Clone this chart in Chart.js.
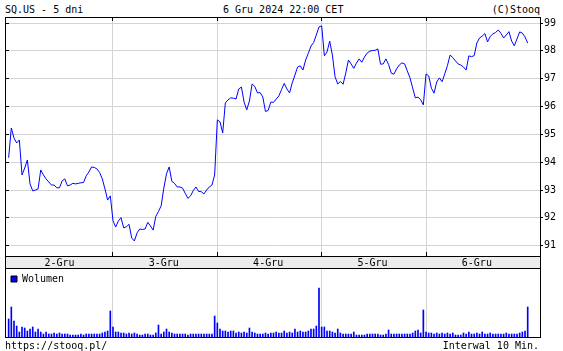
<!DOCTYPE html>
<html>
<head>
<meta charset="utf-8">
<script src="https://cdn.jsdelivr.net/npm/chart.js@4"></script>
<style>
  body { margin: 0; width: 563px; height: 351px; background: #fff; position: relative; overflow: hidden;
         font: 10px "DejaVu Sans Mono", monospace; color: #000; }
  .t { position: absolute; line-height: 10px; white-space: pre; }
  canvas { position: absolute; left: 0; }
</style>
</head>
<body>
<div class="t" style="left:5px;top:5px">SQ.US - 5 dni</div>
<div class="t" style="left:223px;top:5px">6 Gru 2024 22:00 CET</div>
<div class="t" style="right:23px;top:5px">(C)Stooq</div>
<canvas id="price" width="563" height="268" style="top:0"></canvas>
<canvas id="vol" width="563" height="83" style="top:268px"></canvas>
<div class="t" style="left:5px;top:341px">https://stooq.pl/</div>
<div class="t" style="right:24px;top:341px">Interwal 10 Min.</div>
<script>
const days = ['2-Gru', '3-Gru', '4-Gru', '5-Gru', '6-Gru'];
const barsPerDay = 39;
const priceTicks = [91, 92, 93, 94, 95, 96, 97, 98, 99];

// 10-minute closes, 39 per session
const prices = [
  94.16, 95.23, 94.87, 94.69, 94.80, 93.54, 93.79, 94.08, 93.22, 92.97, 93.00, 93.04, 93.72, 93.54, 93.40, 93.29, 93.18, 93.18, 93.08, 93.08,
  93.33, 93.40, 93.15, 93.18, 93.24, 93.22, 93.24, 93.26, 93.27, 93.51, 93.65, 93.83, 93.81, 93.76, 93.63, 93.40, 93.04, 92.64, 92.79,
  91.90, 91.67, 91.89, 92.01, 91.64, 91.68, 91.77, 91.28, 91.17, 91.46, 91.60, 91.58, 91.60, 91.84, 91.71, 91.56, 92.05, 92.23, 92.43, 93.07,
  93.58, 93.83, 93.31, 93.24, 93.11, 93.11, 93.07, 92.88, 92.70, 92.79, 92.98, 93.11, 92.95, 92.94, 92.86, 93.00, 93.11, 93.18, 93.54,
  95.52, 95.45, 95.05, 96.13, 96.24, 96.31, 96.30, 96.27, 96.63, 96.70, 96.16, 95.88, 96.20, 96.81, 96.72, 96.49, 96.50, 96.34, 95.82, 95.86,
  96.16, 96.15, 96.27, 96.38, 96.61, 96.83, 96.63, 96.49, 96.85, 97.13, 97.42, 97.46, 97.31, 97.67, 97.91, 98.17, 98.30, 98.57, 98.86,
  98.90, 97.82, 97.96, 98.35, 97.85, 97.07, 96.81, 96.90, 96.80, 97.20, 97.67, 97.53, 97.37, 97.56, 97.71, 97.59, 97.78, 97.92, 97.99, 98.01,
  98.02, 98.07, 97.52, 97.53, 97.71, 97.51, 97.20, 97.16, 97.35, 97.49, 97.57, 97.53, 97.28, 97.03, 96.67, 96.31, 96.34, 96.24, 96.06,
  97.17, 97.10, 96.66, 96.48, 96.88, 97.03, 96.89, 97.17, 97.47, 97.85, 97.76, 97.64, 97.53, 97.49, 97.42, 97.31, 97.82, 97.79, 97.83, 98.28,
  98.46, 98.53, 98.62, 98.32, 98.52, 98.61, 98.66, 98.75, 98.63, 98.46, 98.57, 98.69, 98.35, 98.18, 98.43, 98.68, 98.64, 98.50, 98.28
];

const volumes = [
  18, 30, 16, 11, 5, 10, 9, 6, 8, 10, 5, 8, 5, 3, 5, 3, 3, 4, 3, 4, 3, 3, 3, 2, 2, 2, 2, 3, 2, 3, 3, 3, 3, 3, 3, 4, 5, 6, 26,
  10, 5, 5, 4, 4, 3, 4, 3, 4, 3, 2, 2, 3, 3, 2, 2, 4, 12, 3, 5, 8, 5, 4, 3, 3, 3, 3, 3, 2, 3, 3, 3, 3, 3, 3, 3, 3, 3, 21,
  14, 8, 6, 6, 5, 6, 6, 4, 5, 4, 5, 4, 9, 5, 4, 3, 3, 3, 4, 3, 4, 4, 5, 4, 4, 6, 4, 5, 4, 8, 5, 6, 5, 5, 6, 8, 8, 11, 49,
  10, 10, 6, 6, 5, 4, 8, 4, 3, 3, 3, 3, 5, 2, 2, 2, 2, 3, 3, 3, 3, 3, 2, 2, 3, 7, 3, 3, 3, 3, 3, 3, 3, 3, 4, 6, 7, 4, 27,
  5, 4, 4, 3, 4, 3, 4, 3, 4, 3, 4, 2, 2, 2, 4, 3, 5, 3, 3, 4, 3, 5, 3, 3, 4, 3, 3, 3, 3, 3, 4, 3, 3, 3, 3, 4, 5, 6, 30
];

const gridColor = '#d4d4d4';
Chart.defaults.font.family = "'DejaVu Sans Mono', monospace";
Chart.defaults.font.size = 10;
Chart.defaults.color = '#000';

const xMin = -1.36, xMax = 198.6;
const dayStarts = days.slice(1).map((d, k) => (k + 1) * barsPerDay);
const dayMids = days.map((d, k) => k * barsPerDay + 19);
const align = p => Math.round(p - 0.5) + 0.5;

// frame, strip under the price panel and the small inner ticks
const frame = {
  id: 'frame',
  beforeDraw(chart, args, opts) {
    if (!opts.strip) return;
    const { ctx, chartArea: a } = chart;
    ctx.save();
    ctx.fillStyle = '#ececec';
    ctx.fillRect(a.left, a.bottom, a.right - a.left, chart.height - a.bottom);
    ctx.restore();
  },
  afterDraw(chart, args, opts) {
    const { ctx, chartArea: a, scales } = chart;
    ctx.save();
    ctx.strokeStyle = '#000';
    ctx.lineWidth = 1;
    ctx.strokeRect(a.left + 0.5, a.top + 0.5, a.right - a.left, a.bottom - a.top);
    if (opts.strip) {
      ctx.beginPath();
      ctx.moveTo(a.left + 0.5, a.bottom); ctx.lineTo(a.left + 0.5, chart.height);
      ctx.moveTo(a.right + 0.5, a.bottom); ctx.lineTo(a.right + 0.5, chart.height);
      dayStarts.forEach(v => {
        const x = align(scales.x.getPixelForValue(v));
        ctx.moveTo(x, a.top); ctx.lineTo(x, a.top + 4);
        ctx.moveTo(x, a.bottom); ctx.lineTo(x, a.bottom - 4);
      });
      priceTicks.forEach(v => {
        const y = align(scales.y.getPixelForValue(v));
        ctx.moveTo(a.left, y); ctx.lineTo(a.left + 4, y);
      });
      ctx.stroke();
    }
    ctx.restore();
  }
};

new Chart(document.getElementById('price'), {
  type: 'line',
  data: {
    datasets: [{
      data: prices.map((v, i) => ({ x: i, y: v })),
      borderColor: '#0000ff',
      borderWidth: 1,
      pointRadius: 0,
      tension: 0
    }]
  },
  options: {
    responsive: false,
    animation: false,
    events: [],
    layout: { padding: { left: 5, top: 17, right: 0, bottom: 0 } },
    plugins: { legend: { display: false }, tooltip: { enabled: false }, frame: { strip: true } },
    scales: {
      x: {
        type: 'linear', min: xMin, max: xMax,
        afterBuildTicks: s => { s.ticks = [...dayStarts, ...dayMids].sort((a, b) => a - b).map(v => ({ value: v })); },
        afterFit: s => { s.height = 12; },
        ticks: {
          autoSkip: false, maxRotation: 0, padding: 1,
          callback: v => { const k = dayMids.indexOf(v); return k < 0 ? '' : days[k]; }
        },
        grid: {
          color: c => (c.tick && dayMids.includes(c.tick.value)) ? 'rgba(0,0,0,0)' : gridColor,
          drawTicks: false
        },
        border: { display: false }
      },
      y: {
        position: 'right', min: 90.63, max: 99.216,
        afterBuildTicks: s => { s.ticks = priceTicks.map(v => ({ value: v })); },
        afterFit: s => { s.width = 23; },
        ticks: { padding: 1 },
        grid: { color: gridColor, tickColor: '#000', tickLength: 3 },
        border: { display: false }
      }
    }
  },
  plugins: [frame]
});

new Chart(document.getElementById('vol'), {
  type: 'bar',
  data: {
    datasets: [{
      label: 'Wolumen',
      data: volumes.map((v, i) => ({ x: i, y: v })),
      backgroundColor: '#0000ff',
      borderWidth: 0,
      barThickness: 1
    }]
  },
  options: {
    responsive: false,
    animation: false,
    events: [],
    layout: { padding: { left: 5, top: 0, right: 23, bottom: 14 } },
    plugins: {
      tooltip: { enabled: false },
      frame: { strip: false },
      legend: {
        position: 'chartArea', align: 'start',
        labels: {
          boxWidth: 6, boxHeight: 6, padding: 6, color: '#000',
          generateLabels: () => [{ text: 'Wolumen', fillStyle: '#0000ff', strokeStyle: '#000', lineWidth: 1, datasetIndex: 0 }]
        }
      }
    },
    scales: {
      x: {
        type: 'linear', min: xMin, max: xMax, offset: false,
        afterBuildTicks: s => { s.ticks = dayStarts.map(v => ({ value: v })); },
        afterFit: s => { s.height = 0; },
        ticks: { display: false },
        grid: { color: gridColor, drawTicks: false, offset: false },
        border: { display: false }
      },
      y: { display: false, min: 0, max: 69 }
    }
  },
  plugins: [frame]
});
</script>
</body>
</html>
